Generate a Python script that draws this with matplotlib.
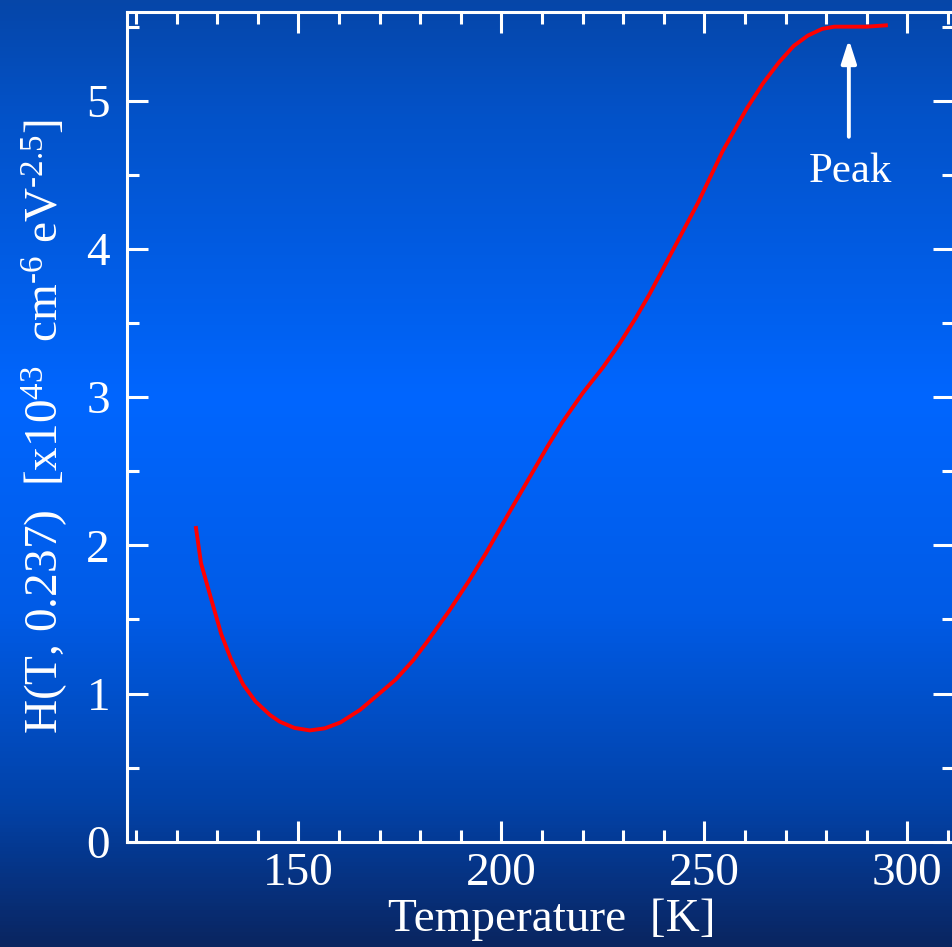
import numpy as np
import matplotlib
matplotlib.use("Agg")
import matplotlib.pyplot as plt
from matplotlib.colors import LinearSegmentedColormap

plt.rcParams['font.family'] = ['Liberation Serif', 'DejaVu Serif']
plt.rcParams['mathtext.fontset'] = 'custom'
plt.rcParams['mathtext.rm'] = 'Liberation Serif'
plt.rcParams['mathtext.it'] = 'Liberation Serif:italic'

# values
temp = [124.7, 126.0, 128.9, 131.0, 133.4, 136.4, 139.4, 143.0, 145.4, 149.0,
        152.8, 156.5, 160.3, 165.2, 169.3, 174.0, 178.3, 181.6, 187.2, 192.0,
        196.2, 200.0, 205.2, 211.2, 215.0, 220.1, 225.0, 229.1, 233.0, 236.6,
        242.6, 248.4, 254.5, 260.5, 264.5, 268.4, 272.0, 275.5, 279.0, 282.0,
        286.0, 290.0, 295.2]
h_val = [2.13, 1.88, 1.60, 1.40, 1.23, 1.06, 0.947, 0.855, 0.81, 0.768,
         0.751, 0.765, 0.804, 0.89, 0.985, 1.095, 1.225, 1.345, 1.56, 1.76,
         1.947, 2.13, 2.376, 2.66, 2.83, 3.03, 3.20, 3.36, 3.53, 3.70,
         4.01, 4.31, 4.66, 4.95, 5.12, 5.26, 5.37, 5.44, 5.485, 5.50,
         5.50, 5.50, 5.51]
peak_T = 285.6
xticks = [150, 200, 250, 300]
yticks = [0, 1, 2, 3, 4, 5]

fig = plt.figure(figsize=(9.52, 9.47), dpi=100)

# blue gradient background
bg = fig.add_axes([0, 0, 1, 1], zorder=0)
cmap = LinearSegmentedColormap.from_list('bg', [
    (0.0, '#0646a8'), (0.12, '#0352c8'), (0.42, '#0066ff'),
    (0.65, '#005be6'), (0.85, '#0242a8'), (1.0, '#0a2560')])
grad = np.linspace(0, 1, 256).reshape(-1, 1)
bg.imshow(grad, cmap=cmap, aspect='auto', extent=[0, 1, 0, 1], origin='upper')
bg.axis('off')

ax = fig.add_axes([0.1331, 0.1112, 0.8690, 0.8758], zorder=1)
ax.patch.set_alpha(0)
ax.plot(temp, h_val, color='#ff0000', lw=2.8, solid_capstyle='butt')

ax.set_xlim(107.7, 311.5)
ax.set_ylim(0, 5.597)
ax.set_xticks(xticks)
ax.set_yticks(yticks)
ax.set_xticks(np.arange(110, 311, 10), minor=True)
ax.set_yticks(np.arange(0, 5.6, 0.5), minor=True)

for s in ax.spines.values():
    s.set_color('white')
    s.set_linewidth(2.2)
ax.tick_params(which='both', direction='in', top=True, right=True,
               color='white', labelcolor='white', labelsize=34)
ax.tick_params(which='major', length=15, width=2.2)
ax.tick_params(which='minor', length=8.5, width=2.2)
ax.tick_params(axis='x', pad=8)
ax.tick_params(axis='y', pad=12)

ax.set_xlabel('Temperature  [K]', color='white', fontsize=34, labelpad=-2)
ax.xaxis.set_label_coords(0.514, -0.068)
ax.set_ylabel(r'H(T, 0.237)  [x10$^{\text{43}}$  cm$^{\text{-6}}$ eV$^{\text{-2.5}}$]',
              color='white', fontsize=34, labelpad=12)

ax.annotate('', xy=(peak_T, 5.414), xytext=(peak_T, 4.757),
            arrowprops=dict(arrowstyle='-|>,head_length=1.4,head_width=0.45',
                            color='white', lw=2.8, shrinkA=0, shrinkB=0))
ax.text(peak_T + 0.5, 4.52, 'Peak', color='white', fontsize=31,
        ha='center', va='center')

fig.savefig('out.png', dpi=100)
